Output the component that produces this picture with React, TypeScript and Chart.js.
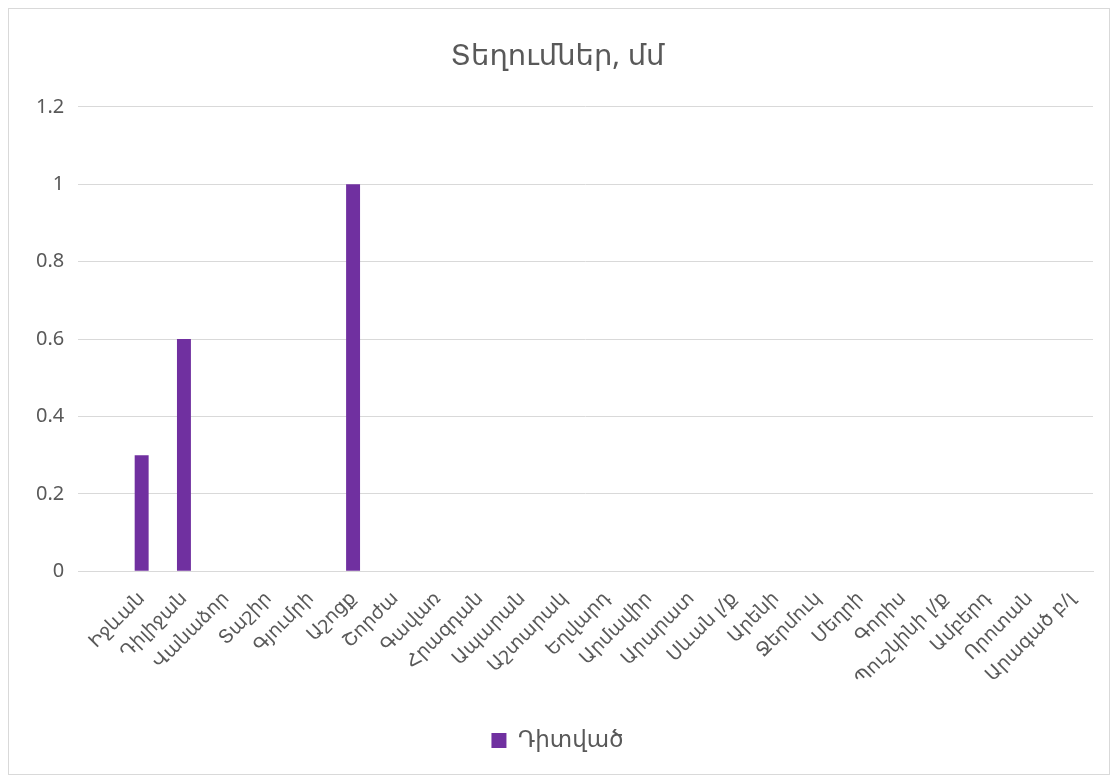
import React, { useEffect, useRef } from "react";
import { Chart, registerables } from "chart.js";

Chart.register(...registerables);

const categories: string[] = [
  "",
  "Իջևան",
  "Դիլիջան",
  "Վանաձոր",
  "Տաշիր",
  "Գյումրի",
  "Աշոցք",
  "Շորժա",
  "Գավառ",
  "Հրազդան",
  "Ապարան",
  "Աշտարակ",
  "Եղվարդ",
  "Արմավիր",
  "Արարատ",
  "Սևան լ/ք",
  "Արենի",
  "Ջերմուկ",
  "Մեղրի",
  "Գորիս",
  "Պուշկինի լ/ք",
  "Ամբերդ",
  "Որոտան",
  "Արագած բ/լ",
];

const observed: (number | null)[] = [
  null, 0.3, 0.6, 0, 0, 0, 1, 0, 0, 0, 0, 0, 0, 0, 0, 0, 0, 0, 0, 0, 0, 0, 0, 0,
];

const yTicks = { min: 0, max: 1.2, step: 0.2 };
const titleText = "Տեղումներ, մմ";
const seriesName = "Դիտված";

const FONT = "'Noto Sans', 'DejaVu Sans', sans-serif";
const TEXT = "#595959";
const GRID = "#d9d9d9";
const BAR = "#7030a0";

export default function App() {
  const ref = useRef<HTMLCanvasElement | null>(null);

  useEffect(() => {
    if (!ref.current) return;
    const chart = new Chart(ref.current, {
      type: "bar",
      data: {
        labels: categories,
        datasets: [
          {
            label: seriesName,
            data: observed,
            backgroundColor: BAR,
            borderWidth: 0,
            barPercentage: 0.33,
            categoryPercentage: 1,
          },
        ],
      },
      options: {
        animation: false,
        responsive: false,
        devicePixelRatio: 1,
        layout: { padding: { left: 13, right: 16, top: 10, bottom: 12 } },
        plugins: {
          title: {
            display: true,
            text: titleText,
            color: TEXT,
            font: { family: FONT, size: 29, weight: "normal" },
            padding: { top: 20, bottom: 33 },
          },
          legend: {
            position: "bottom",
            labels: {
              color: TEXT,
              font: { family: FONT, size: 23 },
              boxWidth: 15,
              boxHeight: 15,
              padding: 20,
            },
          },
          tooltip: { enabled: false },
        },
        scales: {
          x: {
            grid: { display: false },
            border: { display: true, color: GRID, width: 1 },
            ticks: {
              color: TEXT,
              font: { family: FONT, size: 19 },
              maxRotation: 45,
              minRotation: 45,
              autoSkip: false,
              padding: 8,
            },
            afterFit: (scale: any) => {
              scale.height += 11;
            },
          },
          y: {
            min: yTicks.min,
            max: yTicks.max,
            grid: { color: GRID, drawTicks: false },
            border: { display: false },
            ticks: {
              stepSize: yTicks.step,
              color: TEXT,
              font: { family: FONT, size: 20 },
              padding: 14,
              callback: (v: any) => String(Math.round(Number(v) * 10) / 10),
            },
          },
        },
      },
    });
    return () => chart.destroy();
  }, []);

  return (
    <div
      style={{
        width: 1102,
        height: 767,
        border: `1px solid ${GRID}`,
        boxSizing: "border-box",
        background: "#fff",
      }}
    >
      <canvas ref={ref} width={1100} height={765} />
    </div>
  );
}
